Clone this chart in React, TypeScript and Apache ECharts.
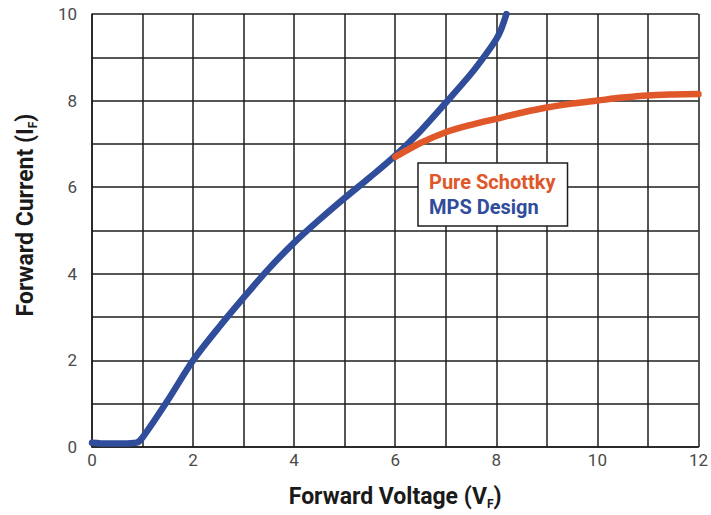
import React, { useEffect, useRef } from "react";
import * as echarts from "echarts";

const mpsVoltage = [0, 0.3, 0.6, 0.88, 1.0, 1.5, 2.0, 2.5, 3.0, 3.5, 4.0, 4.5, 5.0, 5.5, 6.0, 6.5, 7.0, 7.5, 7.8, 8.0, 8.1, 8.2];
const mpsCurrent = [0.1, 0.08, 0.08, 0.1, 0.22, 1.08, 2.0, 2.75, 3.45, 4.12, 4.72, 5.25, 5.75, 6.23, 6.73, 7.3, 7.95, 8.62, 9.08, 9.42, 9.66, 10.0];

const schottkyVoltage = [6.0, 6.5, 7.0, 7.5, 8.0, 8.5, 9.0, 9.5, 10.0, 10.5, 11.0, 11.5, 12.0];
const schottkyCurrent = [6.7, 7.02, 7.27, 7.44, 7.58, 7.72, 7.84, 7.93, 8.0, 8.07, 8.12, 8.14, 8.15];

const xTicks = [0, 2, 4, 6, 8, 10, 12];
const yTicks = [0, 2, 4, 6, 8, 10];

const BLUE = "#2F4D9A";
const ORANGE = "#E0572A";
const FONT = "Roboto";

export default function App() {
  const ref = useRef<HTMLDivElement>(null);
  useEffect(() => {
    if (!ref.current) return;
    const chart = echarts.init(ref.current, null, { renderer: "svg" });
    const gridLine = { show: true, lineStyle: { color: "#1e1e1e", width: 1.5 } };
    chart.setOption({
      animation: false,
      backgroundColor: "#ffffff",
      textStyle: { fontFamily: FONT },
      grid: { left: 92, right: 11, top: 14, bottom: 60, containLabel: false },
      legend: {
        data: [
          { name: "Pure Schottky", icon: "none", textStyle: { color: ORANGE } },
          { name: "MPS Design", icon: "none", textStyle: { color: BLUE } },
        ],
        orient: "vertical",
        left: 418,
        top: 163,
        itemWidth: 0,
        itemHeight: 10,
        itemGap: 5,
        padding: [9, 12, 9, 6],
        backgroundColor: "#ffffff",
        borderColor: "#1e1e1e",
        borderWidth: 1.5,
        selectedMode: false,
        textStyle: { fontFamily: FONT, fontWeight: "bold", fontSize: 20 },
      },
      xAxis: {
        type: "value",
        min: 0,
        max: 12,
        interval: 1,
        name: "{a|Forward Voltage (V}{s|F}{a|)}",
        nameLocation: "middle",
        nameGap: 36,
        nameTextStyle: {
          rich: {
            a: { fontFamily: FONT, fontWeight: "bold", fontSize: 23, color: "#1a1a1a", lineHeight: 26 },
            s: { fontFamily: FONT, fontWeight: "bold", fontSize: 12, color: "#1a1a1a", lineHeight: 26, padding: [16, 0, 0, 0] },
          },
        },
        axisLine: { show: true, lineStyle: { color: "#1e1e1e", width: 1.5 } },
        axisTick: { show: false },
        splitLine: gridLine,
        axisLabel: {
          margin: 4,
          fontSize: 17,
          color: "#4a4a4a",
          fontFamily: FONT,
          formatter: (v: number) => (xTicks.includes(v) ? String(v) : ""),
        },
      },
      yAxis: {
        type: "value",
        min: 0,
        max: 10,
        interval: 1,
        axisLine: { show: true, lineStyle: { color: "#1e1e1e", width: 1.5 } },
        axisTick: { show: false },
        splitLine: gridLine,
        axisLabel: {
          margin: 15,
          fontSize: 17,
          color: "#4a4a4a",
          fontFamily: FONT,
          padding: [10, 0, 0, 0],
          formatter: (v: number) => (yTicks.includes(v) ? String(v) : ""),
        },
      },
      graphic: [
        {
          type: "text",
          x: 25,
          y: 215,
          rotation: Math.PI / 2,
          style: {
            text: "{a|Forward Current (I}{s|F}{a|)}",
            align: "center",
            verticalAlign: "middle",
            rich: {
              a: { fontFamily: FONT, fontWeight: "bold", fontSize: 23, fill: "#1a1a1a", lineHeight: 26 },
              s: { fontFamily: FONT, fontWeight: "bold", fontSize: 12, fill: "#1a1a1a", lineHeight: 26, padding: [16, 0, 0, 0] },
            },
          },
        },
      ],
      series: [
        {
          name: "MPS Design",
          type: "line",
          data: mpsVoltage.map((v, i) => [v, mpsCurrent[i]]),
          showSymbol: false,
          smooth: 0.3,
          lineStyle: { color: BLUE, width: 6.5, cap: "round" },
          itemStyle: { color: BLUE },
          z: 3,
        },
        {
          name: "Pure Schottky",
          type: "line",
          data: schottkyVoltage.map((v, i) => [v, schottkyCurrent[i]]),
          showSymbol: false,
          smooth: 0.3,
          lineStyle: { color: ORANGE, width: 6.5, cap: "round" },
          itemStyle: { color: ORANGE },
          z: 4,
        },
      ],
    });
    return () => chart.dispose();
  }, []);
  return <div ref={ref} style={{ width: 711, height: 515, position: "absolute", left: 0, top: 0 }} />;
}
